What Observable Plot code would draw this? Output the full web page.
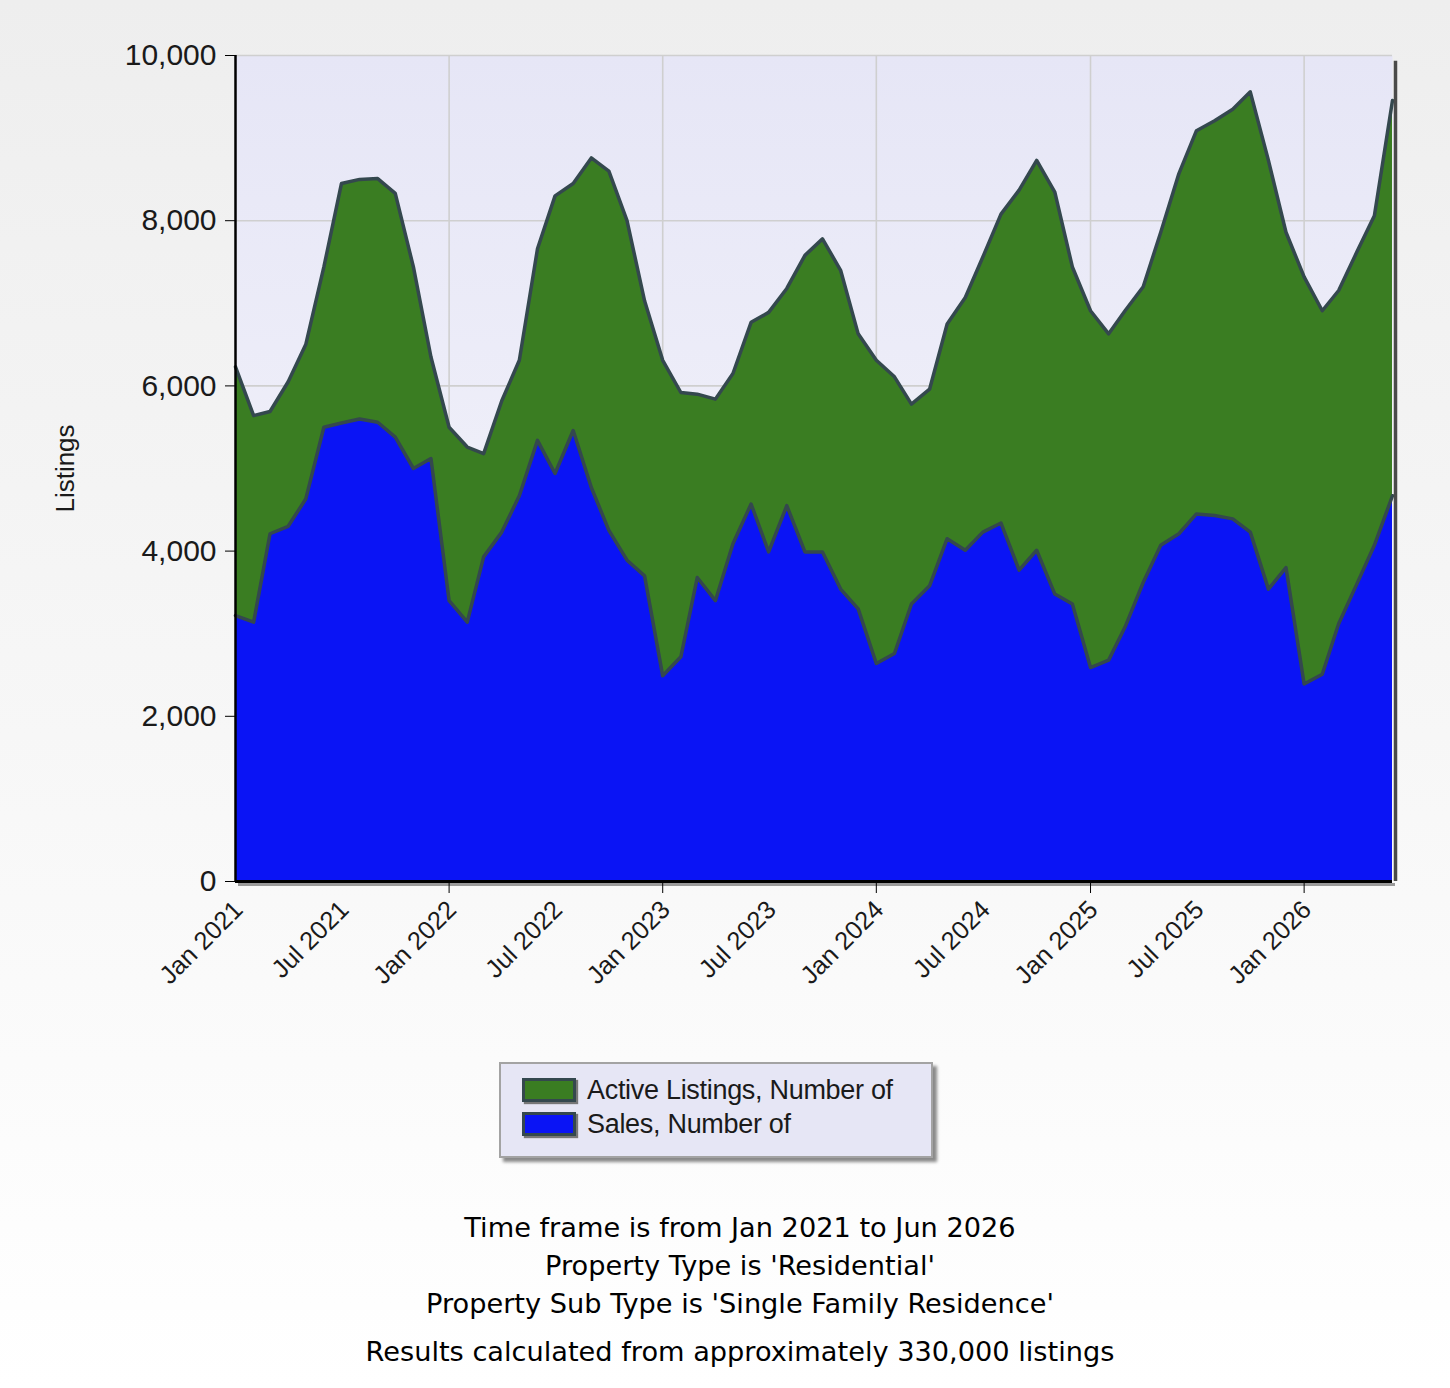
<!DOCTYPE html>
<html>
<head>
<meta charset="utf-8">
<script src="https://cdn.jsdelivr.net/npm/d3@7"></script>
<script src="https://cdn.jsdelivr.net/npm/@observablehq/plot@0.6"></script>
<style>
html,body{margin:0;padding:0;}
body{width:1450px;height:1388px;background:linear-gradient(#eeeeee,#ffffff);position:relative;overflow:hidden;font-family:"Liberation Sans",Arial,sans-serif;}
#chart{position:absolute;left:0;top:0;}
#legend{position:absolute;left:499px;top:1062px;width:430px;height:92px;background:#e6e6f5;border:2px solid #a3a3a3;box-shadow:4px 4px 3px #8a8a8a;}
.item{position:absolute;left:21px;height:28px;display:flex;align-items:center;font-size:27px;color:#1a1a1a;letter-spacing:-0.3px;white-space:nowrap;}
.sw{width:48px;height:18px;border:3px solid #34484e;box-shadow:2px 2px 1px #777;margin-right:11px;}
#caption{position:absolute;left:340px;width:800px;top:1209px;text-align:center;font-family:"DejaVu Sans",sans-serif;font-size:27.2px;color:#000;line-height:38px;}
#caption .gap{margin-top:10px;}
</style>
</head>
<body>
<div id="chart"></div>
<div id="legend"></div>
<div id="caption"></div>
<script>
// ---- data ----
const months = [
  "2021-01","2021-02","2021-03","2021-04","2021-05","2021-06","2021-07","2021-08","2021-09","2021-10","2021-11","2021-12",
  "2022-01","2022-02","2022-03","2022-04","2022-05","2022-06","2022-07","2022-08","2022-09","2022-10","2022-11","2022-12",
  "2023-01","2023-02","2023-03","2023-04","2023-05","2023-06","2023-07","2023-08","2023-09","2023-10","2023-11","2023-12",
  "2024-01","2024-02","2024-03","2024-04","2024-05","2024-06","2024-07","2024-08","2024-09","2024-10","2024-11","2024-12",
  "2025-01","2025-02","2025-03","2025-04","2025-05","2025-06","2025-07","2025-08","2025-09","2025-10","2025-11","2025-12",
  "2026-01","2026-02","2026-03","2026-04","2026-05","2026-06"
];
const activeListings = [
  6230,5640,5690,6050,6500,7440,8450,8500,8510,8330,7440,6350,
  5500,5260,5180,5820,6310,7660,8300,8450,8760,8600,8000,7030,
  6310,5920,5900,5840,6150,6770,6890,7180,7580,7780,7400,6630,
  6310,6110,5780,5960,6750,7070,7560,8080,8370,8730,8345,7440,
  6910,6630,6910,7200,7860,8570,9090,9210,9350,9560,8730,7860,
  7320,6910,7155,7620,8060,9455
];
const sales = [
  3220,3140,4210,4300,4630,5500,5550,5600,5560,5380,5000,5120,
  3400,3140,3930,4230,4670,5340,4940,5460,4770,4250,3890,3700,
  2490,2720,3680,3400,4090,4570,3990,4550,3990,3990,3540,3300,
  2640,2760,3360,3580,4150,4010,4230,4340,3770,4010,3480,3360,
  2590,2680,3080,3620,4070,4210,4450,4430,4390,4230,3540,3800,
  2390,2510,3120,3600,4070,4670
];
const seriesNames = ["Active Listings, Number of", "Sales, Number of"];
const seriesColors = ["#3a7d22", "#0a14f5"];
const outlineColor = "#34484e";
const yTicks = [0, 2000, 4000, 6000, 8000, 10000];
const xTickLabels = ["Jan 2021","Jul 2021","Jan 2022","Jul 2022","Jan 2023","Jul 2023","Jan 2024","Jul 2024","Jan 2025","Jul 2025","Jan 2026"];
const yearGridLabels = ["Jan 2022","Jan 2023","Jan 2024","Jan 2025","Jan 2026"];
const yLabel = "Listings";
const captionLines = [
  "Time frame is from Jan 2021 to Jun 2026",
  "Property Type is 'Residential'",
  "Property Sub Type is 'Single Family Residence'",
  "Results calculated from approximately 330,000 listings"
];

// ---- build ----
const parseM = d3.utcParse("%Y-%m");
const parseL = d3.utcParse("%b %Y");
const rows = months.map((m, i) => ({date: parseM(m), active: activeListings[i], sales: sales[i]}));
const xStart = rows[0].date, xEnd = rows[rows.length - 1].date;
const labelDates = xTickLabels.map(parseL);
const yearDates = yearGridLabels.map(parseL);

const chart = Plot.plot({
  width: 1450,
  height: 1010,
  marginLeft: 235,
  marginRight: 58,
  marginTop: 55,
  marginBottom: 129,
  style: {background: "transparent", fontFamily: "'Liberation Sans', Arial, sans-serif", color: "#1a1a1a", overflow: "visible"},
  x: {type: "utc", domain: [xStart, xEnd]},
  y: {domain: [0, 10000]},
  marks: [
    Plot.frame({fill: "url(#plotBg)"}),
    Plot.gridX(yearDates, {stroke: "#cfcfcf", strokeOpacity: 1, strokeWidth: 1.6}),
    Plot.gridY(yTicks, {stroke: "#cfcfcf", strokeOpacity: 1, strokeWidth: 1.6}),
    Plot.areaY(rows, {x: "date", y: "active", fill: seriesColors[0]}),
    Plot.lineY(rows, {x: "date", y: "active", stroke: outlineColor, strokeWidth: 3.5, strokeLinejoin: "round"}),
    Plot.areaY(rows, {x: "date", y: "sales", fill: seriesColors[1]}),
    Plot.lineY(rows, {x: "date", y: "sales", stroke: outlineColor, strokeWidth: 3.5, strokeLinejoin: "round"}),
    // right shadow edge
    Plot.ruleX([xEnd], {y1: 9930, y2: 0, stroke: "#4a4a4a", strokeWidth: 3.5, dx: 3}),
    // axis lines
    Plot.ruleY([0], {stroke: "#9a9a9a", strokeWidth: 3, dy: 3, dx: 3}),
    Plot.ruleY([0], {stroke: "#000", strokeWidth: 3}),
    Plot.ruleX([xStart], {stroke: "#000", strokeWidth: 2.5}),
    Plot.axisY(yTicks, {tickSize: 10, tickPadding: 9, fontSize: 30, tickFormat: d3.format(","), label: null, stroke: "#000"}),
    Plot.axisX(yearDates, {tickSize: 12, tickFormat: () => "", label: null, stroke: "#000"}),
    Plot.axisX(labelDates, {tickSize: 0, tickPadding: 24, tickRotate: -45, fontSize: 25.5, dx: 3, tickFormat: d => xTickLabels[labelDates.findIndex(t => +t === +d)], label: null}),
    Plot.text([yLabel], {frameAnchor: "left", dx: -170, rotate: -90, textAnchor: "middle", text: d => d, fontSize: 26, fill: "#1a1a1a"})
  ]
});

d3.select(chart).insert("defs", ":first-child").html(
  '<linearGradient id="plotBg" x1="0" y1="0" x2="0" y2="1">' +
  '<stop offset="0" stop-color="#e6e6f6"/><stop offset="1" stop-color="#f7f7fc"/></linearGradient>'
);
document.getElementById("chart").appendChild(chart);

// legend
const legend = d3.select("#legend");
seriesNames.forEach((name, i) => {
  const item = legend.append("div").attr("class", "item").style("top", (i === 0 ? 12 : 46) + "px");
  item.append("div").attr("class", "sw").style("background", seriesColors[i]);
  item.append("span").text(name);
});

// caption
const cap = d3.select("#caption");
captionLines.forEach((t, i) => {
  cap.append("div").attr("class", i === 3 ? "gap" : null).text(t);
});
</script>
</body>
</html>
